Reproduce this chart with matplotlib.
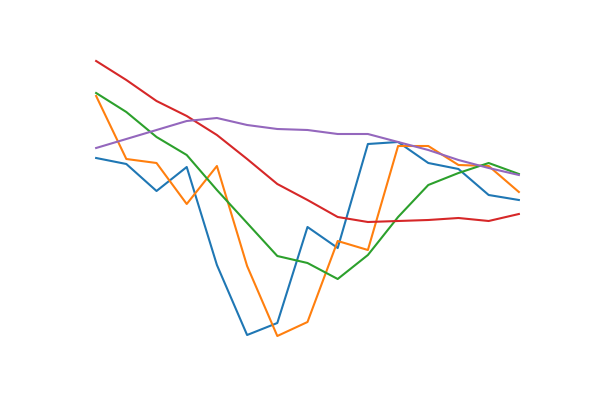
import matplotlib
matplotlib.use("Agg")
import matplotlib.pyplot as plt
import numpy as np

x = np.arange(15)

# values (arbitrary units, higher = up)
blue = [242, 236, 209, 233, 135, 65, 77, 173, 152, 256, 258, 237, 231, 205, 200]
orange = [304, 241, 237, 196, 234, 134, 64, 78, 159, 150, 254, 254, 235, 234, 208]
green = [307, 288, 263, 245, 210, 177, 144, 137, 121, 145, 183, 215, 227, 237, 226]
red = [339, 320, 299, 284, 265, 241, 216, 200, 183, 178, 179, 180, 182, 179, 186]
purple = [252, 261, 270, 279, 282, 275, 271, 270, 266, 266, 258, 250, 240, 232, 225]

fig, ax = plt.subplots(figsize=(6, 4), dpi=100)
for series in (blue, orange, green, red, purple):
    ax.plot(x, series)
ax.set_ylim(44, 352)
ax.axis('off')

fig.savefig('out.png')
